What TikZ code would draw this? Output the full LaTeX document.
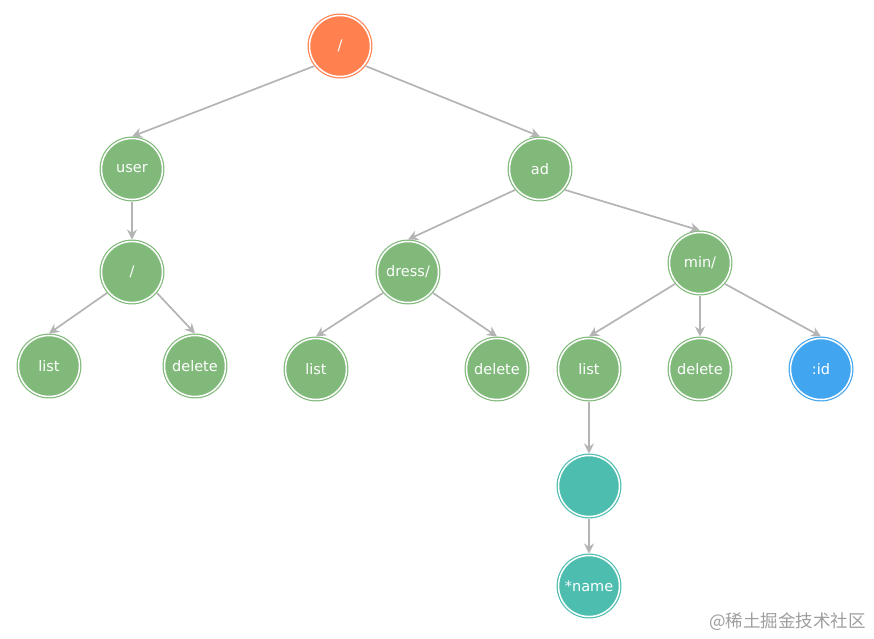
\documentclass[tikz,border=0pt]{standalone}
\usepackage{fontspec}
\setmainfont{DejaVu Sans}
\newfontfamily\cjk{Noto Sans CJK SC}
\usetikzlibrary{arrows.meta}
\definecolor{gfill}{HTML}{80B97A}
\definecolor{ofill}{HTML}{FF8150}
\definecolor{tfill}{HTML}{4DBDB0}
\definecolor{bfill}{HTML}{42A5F0}
\definecolor{edgec}{HTML}{B4B4B4}
\tikzset{
  tn/.style={circle, minimum size=61pt, inner sep=0pt, fill=#1, draw=#1, double=white,
    line width=1.2pt, double distance=1.5pt, outer sep=2pt, text=white,
    font=\fontsize{14.5}{14.5}\selectfont},
  gn/.style={tn=gfill},
  on/.style={tn=ofill},
  teal/.style={tn=tfill},
  bn/.style={tn=bfill},
  conn/.style={draw=edgec, line width=1.7pt, -{Stealth[length=10pt,width=10pt]}},
}
\begin{document}
\begin{tikzpicture}[x=1pt,y=-1pt]
\useasboundingbox (0,0) rectangle (874,638);
\node[on] (root) at (340,46) {/};
\node[gn] (user) at (132,169) {user};
\node[gn] (ad) at (540,169) {ad};
\node[gn] (us) at (132,272) {/};
\node[gn] (dress) at (408,272) {dress/};
\node[gn] (min) at (700,263) {min/};
\node[gn] (l1) at (49,366) {list};
\node[gn] (d1) at (195,366) {delete};
\node[gn] (l2) at (316,369) {list};
\node[gn] (d2) at (497,369) {delete};
\node[gn] (l3) at (589,369) {list};
\node[gn] (d3) at (700,369) {delete};
\node[bn] (id) at (821,369) {:id};
\node[teal] (emp) at (589,486) {};
\node[teal] (name) at (589,586) {*name};
\draw[conn] (root.218) -- (user.north);
\draw[conn] (root.322) -- (ad.north);
\draw[conn] (user.south) -- (us.north);
\draw[conn] (us.220) -- (l1.north);
\draw[conn] (us.320) -- (d1.north);
\draw[conn] (ad.220) -- (dress.north);
\draw[conn] (ad.320) -- (min.north);
\draw[conn] (dress.220) -- (l2.north);
\draw[conn] (dress.320) -- (d2.north);
\draw[conn] (min.220) -- (l3.north);
\draw[conn] (min.south) -- (d3.north);
\draw[conn] (min.320) -- (id.north);
\draw[conn] (l3.south) -- (emp.north);
\draw[conn] (emp.south) -- (name.north);
\node[text=black!38, font=\cjk\fontsize{17.5}{17.5}\selectfont, anchor=east, inner sep=0pt] (wm) at (866,622) {@稀土掘金技术社区};
\end{tikzpicture}
\end{document}
